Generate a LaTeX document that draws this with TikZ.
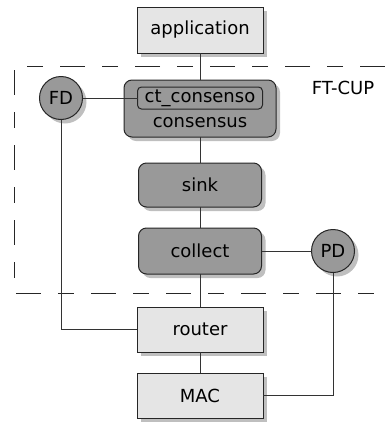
\documentclass[tikz,border=0pt]{standalone}
\usepackage{fontspec}
\setmainfont{DejaVu Sans}
\usetikzlibrary{positioning, shadows}
\tikzset{
  layer/.style={rectangle, draw=black!85, fill=gray!20, line width=0.5pt, outer sep=0pt,
                minimum width=63pt, minimum height=22.5pt,
                font=\fontsize{9}{11}\selectfont,
                drop shadow={shadow xshift=2pt, shadow yshift=-2pt, fill=black!25, opacity=1}},
  ftlayer/.style={rectangle, rounded corners=4pt, draw=black!85, fill=gray!80, line width=0.5pt,
                  outer sep=0pt, minimum width=61.5pt, minimum height=22pt,
                  font=\fontsize{9}{11}\selectfont,
                  drop shadow={shadow xshift=2pt, shadow yshift=-2pt, fill=black!25, opacity=1}},
  ctbox/.style={rectangle, rounded corners=2pt, draw=black!85, fill=gray!80, line width=0.5pt,
                outer sep=0pt, minimum width=62.5pt, minimum height=11pt, inner sep=0pt,
                font=\fontsize{9}{11}\selectfont},
  detector/.style={circle, draw=black!85, fill=gray!80, line width=0.5pt, outer sep=0pt,
                   minimum size=21.5pt, inner sep=0pt,
                   font=\fontsize{9}{11}\selectfont,
                   drop shadow={shadow xshift=2pt, shadow yshift=-2pt, fill=black!25, opacity=1}},
  link/.style={draw=black!80, line width=0.5pt},
  frame/.style={draw=black!85, line width=0.5pt,
                dash pattern=on 12.5pt off 8.5pt on 8pt off 8.5pt},
}
\begin{document}
\begin{tikzpicture}
  \useasboundingbox (0,0) rectangle (192.5pt,-212pt);

  % FT-CUP region (open to the right)
  \draw[frame] (192.5pt,-33pt) -- (7pt,-33pt) -- (7pt,-146.5pt) -- (192.5pt,-146.5pt);
  \node[font=\fontsize{9}{11}\selectfont] (ftcup) at (171.5pt,-44pt) {FT-CUP};

  % protocol stack
  \node[layer, minimum height=23pt] (app) at (100pt,-15pt) {application};
  \node[ftlayer, minimum width=76pt, minimum height=28.5pt, below=13.5pt of app] (cons) {};
  \node[ctbox, below=3.5pt of cons.north] (ct) {ct\_consenso};
  \node[font=\fontsize{9}{11}\selectfont] (constext) at ([yshift=-7.25pt]cons.center) {consensus};
  \node[ftlayer, below=13pt of cons] (sink) {sink};
  \node[ftlayer, minimum height=23pt, below=10.5pt of sink] (collect) {collect};
  \node[layer, below=16.5pt of collect] (router) {router};
  \node[layer, below=10.5pt of router] (mac) {MAC};

  % detectors
  \node[detector, left=27.5pt of ct] (fd) {FD};
  \node[detector, right=25pt of collect] (pd) {PD};

  \draw[link] (app) -- (cons);
  \draw[link] (cons) -- (sink);
  \draw[link] (sink) -- (collect);
  \draw[link] (collect) -- (router);
  \draw[link] (router) -- (mac);
  \draw[link] (fd) -- (ct);
  \draw[link] (fd.south) |- (router.west);
  \draw[link] (collect) -- (pd);
  \draw[link] (pd.south) |- (mac.east);
\end{tikzpicture}
\end{document}
